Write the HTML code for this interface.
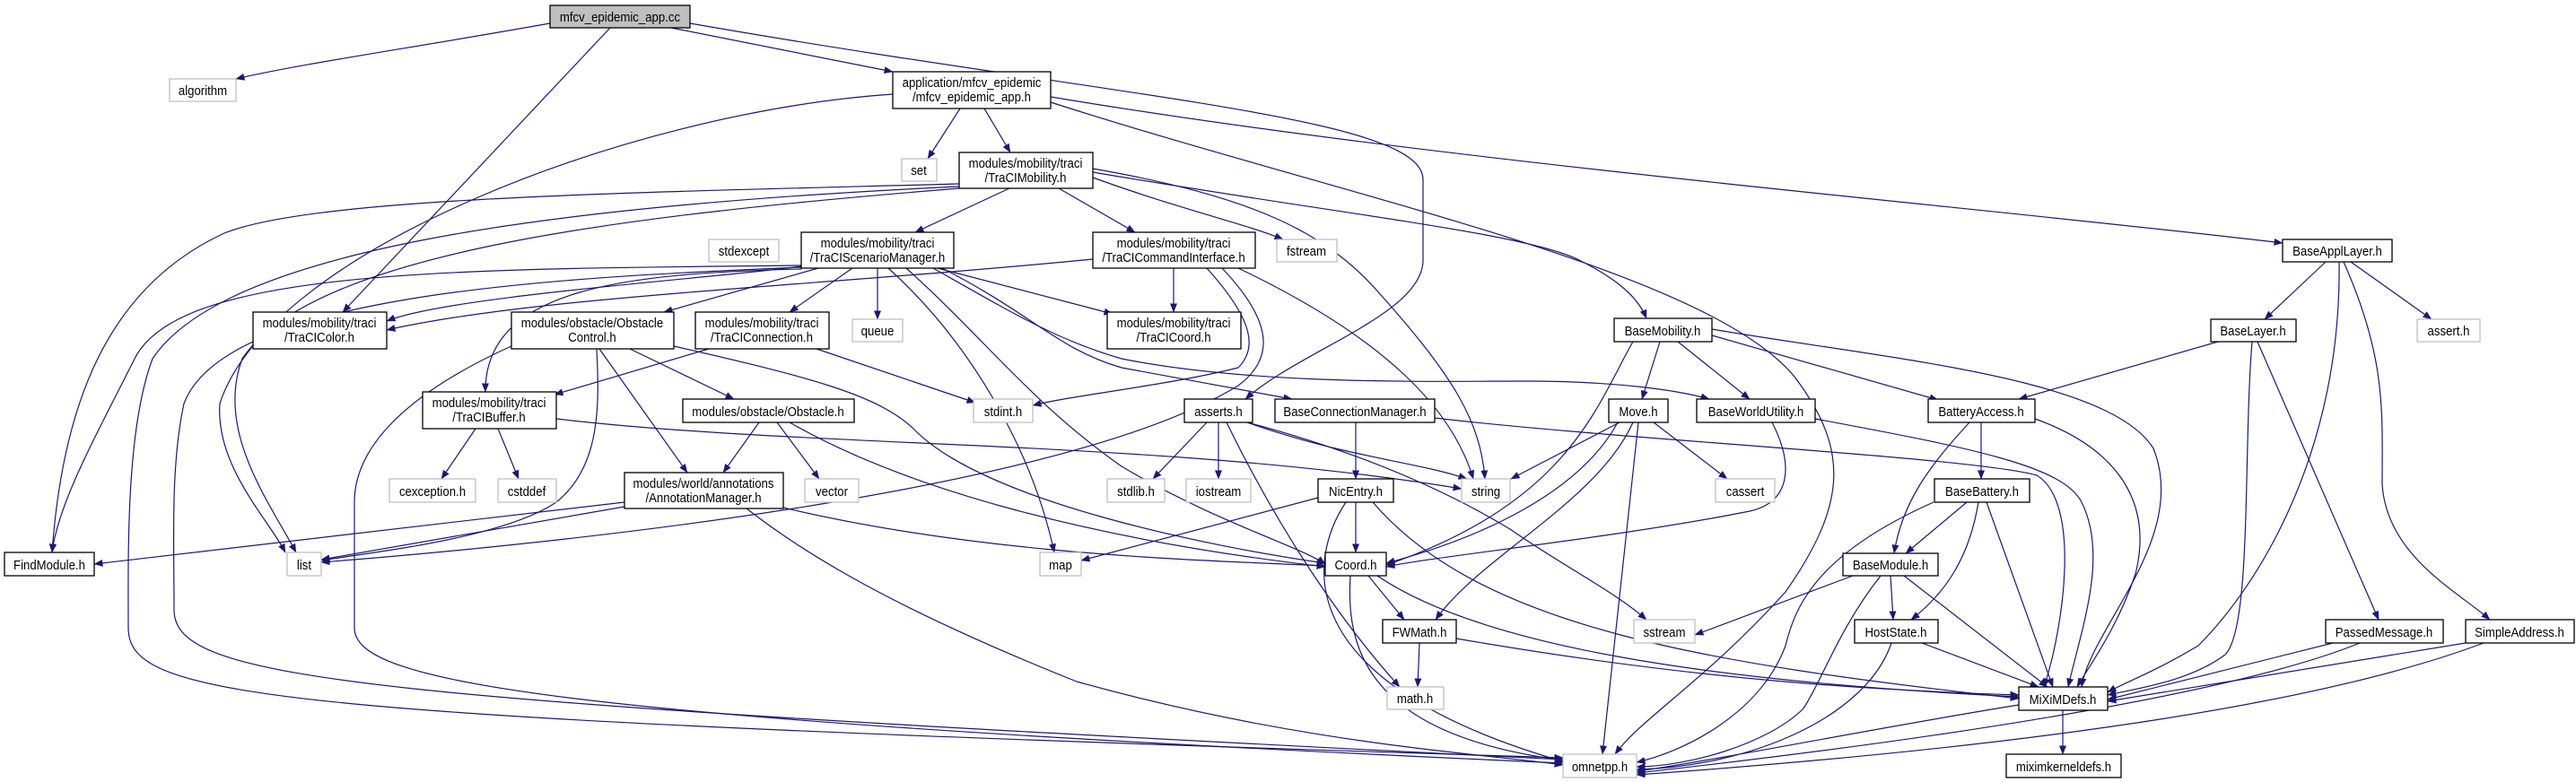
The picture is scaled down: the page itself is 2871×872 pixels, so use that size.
<!DOCTYPE html>
<html><head><meta charset="utf-8"><style>
html,body{margin:0;padding:0;background:#fff;}
svg{display:block;}
text{font-family:"Liberation Sans",sans-serif;font-size:14.5px;fill:#000;text-anchor:middle;transform-box:fill-box;transform-origin:center;transform:scaleX(.91);}
.n{fill:#fff;stroke:#000;stroke-width:1.3;}
.g{fill:#fff;stroke:#c0c0c0;stroke-width:1.3;}
.r{fill:#bfbfbf;stroke:#000;stroke-width:1.3;}
path{fill:none;stroke:#191970;stroke-width:1.2;marker-end:url(#a);}
</style></head><body>
<svg width="2871" height="872" viewBox="0 0 2871 872" xmlns="http://www.w3.org/2000/svg">
<defs><marker id="a" markerWidth="10" markerHeight="8" refX="9.5" refY="4" orient="auto" markerUnits="userSpaceOnUse"><polygon points="0,0 10,4 0,8" fill="#191970"/></marker></defs>
<g>
<path d="M613,26 C450,55 330,72 263,88"/>
<path d="M680,31 L382,348"/>
<path d="M748,31 L995,80"/>
<path d="M769,26 C1250,110 1586,130 1586,200 L1586,290 C1586,350 1450,390 1388,445"/>
<path d="M995,105 C700,125 300,280 245,450 C240,520 300,580 318,616"/>
<path d="M1070,121 L1034,177"/>
<path d="M1097,121 L1126,170"/>
<path d="M1171,108 C1600,180 2200,230 2544,271"/>
<path d="M1171,114 C1500,220 1900,300 2000,420 C2060,500 2060,560 1990,660 C1900,760 1830,800 1800,841"/>
<path d="M1125,210 L1020,259"/>
<path d="M1180,210 L1265,259"/>
<path d="M1218,198 C1320,235 1390,250 1430,267"/>
<path d="M1218,188 C1400,220 1480,260 1540,330 C1620,420 1650,470 1655,534"/>
<path d="M1218,192 C1500,240 1700,260 1760,290 C1800,310 1825,330 1835,355"/>
<path d="M1069,205 C700,215 350,220 250,260 C120,320 70,450 58,616"/>
<path d="M1069,208 C600,230 250,280 170,400 C140,480 143,620 143,700 C143,780 300,800 1742,845"/>
<path d="M1069,210 C700,240 350,280 270,400 C240,480 300,560 330,616"/>
<path d="M893,297 C800,310 500,330 431,358"/>
<path d="M912,299 L740,348"/>
<path d="M950,299 L880,348"/>
<path d="M978,299 L978,356"/>
<path d="M893,296 C500,300 200,300 150,400 C110,480 65,560 58,616"/>
<path d="M893,298 C600,310 250,330 205,450 C190,520 194,600 194,680 C194,760 400,780 1742,847"/>
<path d="M893,300 C700,305 540,320 541,437"/>
<path d="M990,299 C1080,380 1150,500 1175,616"/>
<path d="M1010,299 C1100,380 1150,450 1250,520 C1350,580 1450,610 1477,629"/>
<path d="M1045,299 L1240,350"/>
<path d="M1050,299 C1150,350 1180,390 1250,410 L1440,445"/>
<path d="M1040,299 C1130,350 1180,380 1250,400 C1400,430 1600,425 1700,425 C1800,425 1870,435 1905,445"/>
<path d="M1218,289 C900,320 600,330 431,368"/>
<path d="M1308,299 L1308,348"/>
<path d="M1345,299 C1400,360 1400,390 1380,410 C1300,430 1200,440 1151,452"/>
<path d="M1362,299 C1420,360 1420,400 1380,430 C1200,540 700,600 358,627"/>
<path d="M1380,299 C1550,380 1620,460 1642,534"/>
<path d="M702,389 L818,445"/>
<path d="M668,389 L766,527"/>
<path d="M665,389 C668,450 670,520 620,560 C560,600 420,615 358,625"/>
<path d="M751,386 C900,420 980,440 1020,480 C1100,560 1350,610 1477,628"/>
<path d="M572,385 C450,440 395,500 395,560 L395,700 C395,760 600,800 1742,851"/>
<path d="M790,389 L618,440"/>
<path d="M910,389 L1087,449"/>
<path d="M530,478 L492,534"/>
<path d="M555,478 L578,534"/>
<path d="M620,467 C900,500 1300,490 1629,545"/>
<path d="M846,471 L806,527"/>
<path d="M866,471 L913,534"/>
<path d="M880,471 C1000,540 1200,600 1477,632"/>
<path d="M696,560 L105,629"/>
<path d="M696,565 L358,624"/>
<path d="M873,566 C1100,620 1350,625 1477,631"/>
<path d="M832,567 C900,620 1000,680 1200,760 C1450,830 1650,840 1742,853"/>
<path d="M1345,471 L1285,534"/>
<path d="M1358,471 L1358,534"/>
<path d="M1390,471 C1500,510 1580,515 1635,534"/>
<path d="M1367,471 C1430,600 1500,700 1560,766"/>
<path d="M1390,471 C1500,500 1600,540 1683,590 C1740,630 1800,660 1835,691"/>
<path d="M1511,471 L1511,534"/>
<path d="M1599,466 C1800,490 2200,510 2270,530 C2320,560 2300,700 2278,766"/>
<path d="M1469,555 L1205,625"/>
<path d="M1511,560 L1511,616"/>
<path d="M1500,560 C1460,620 1430,760 1745,850"/>
<path d="M1530,560 C1650,700 1900,740 2250,779"/>
<path d="M1525,642 L1565,691"/>
<path d="M1505,642 C1500,720 1520,820 1745,848"/>
<path d="M1535,642 C1650,720 1900,760 2250,777"/>
<path d="M1582,717 L1580,766"/>
<path d="M1623,712 C1900,760 2100,770 2250,775"/>
<path d="M1805,471 L1684,534"/>
<path d="M1843,471 L1925,534"/>
<path d="M1803,471 C1760,550 1650,600 1545,628"/>
<path d="M1820,471 C1780,560 1650,620 1600,691"/>
<path d="M1826,471 L1786,841"/>
<path d="M1820,381 C1780,450 1750,560 1545,630"/>
<path d="M1975,471 C2000,520 1995,560 1950,570 C1800,600 1600,620 1545,632"/>
<path d="M1850,381 L1830,445"/>
<path d="M1870,381 L1950,445"/>
<path d="M1908,374 L2160,446"/>
<path d="M1908,367 C2100,400 2350,420 2400,500 C2440,600 2330,700 2320,766"/>
<path d="M2023,467 C2200,500 2300,520 2320,560 C2350,620 2320,700 2305,766"/>
<path d="M2208,471 L2208,534"/>
<path d="M2195,471 C2150,520 2120,560 2111,617"/>
<path d="M2268,467 C2360,500 2400,560 2380,640 C2360,700 2330,740 2315,766"/>
<path d="M2192,560 L2124,617"/>
<path d="M2205,560 C2195,620 2170,660 2130,691"/>
<path d="M2214,560 L2288,766"/>
<path d="M2155,560 C2020,620 2000,680 1990,720 C1960,800 1870,840 1824,850"/>
<path d="M2065,642 L1889,708"/>
<path d="M2107,642 L2110,691"/>
<path d="M2122,642 L2282,766"/>
<path d="M2096,642 C2050,700 2030,760 2010,790 C1970,830 1880,855 1824,855"/>
<path d="M2142,717 L2272,766"/>
<path d="M2108,717 C2080,800 1950,855 1824,858"/>
<path d="M2299,792 L2299,841"/>
<path d="M2250,786 C2100,810 1900,850 1824,860"/>
<path d="M2592,292 L2524,356"/>
<path d="M2620,292 L2710,356"/>
<path d="M2607,292 C2610,500 2520,650 2450,720 C2400,750 2370,760 2349,772"/>
<path d="M2612,292 C2660,400 2655,460 2655,540 C2660,620 2740,660 2775,691"/>
<path d="M2472,381 L2250,445"/>
<path d="M2510,381 C2500,500 2510,700 2480,730 C2440,760 2380,768 2349,775"/>
<path d="M2516,381 L2651,691"/>
<path d="M2600,717 L2349,780"/>
<path d="M2630,717 C2500,770 2200,820 1824,862"/>
<path d="M2748,717 L2349,782"/>
<path d="M2768,717 C2600,780 2300,830 1824,864"/>
</g>
<g>
<rect class="r" x="613" y="6" width="156" height="25"/><text x="691" y="24">mfcv_epidemic_app.cc</text>
<rect class="g" x="189" y="88" width="74" height="25"/><text x="226" y="106">algorithm</text>
<rect class="n" x="995" y="80" width="176" height="41"/><text x="1083" y="97">application/mfcv_epidemic</text><text x="1083" y="113">/mfcv_epidemic_app.h</text>
<rect class="g" x="1005" y="177" width="39" height="25"/><text x="1024" y="195">set</text>
<rect class="n" x="1069" y="170" width="149" height="40"/><text x="1143" y="187">modules/mobility/traci</text><text x="1143" y="203">/TraCIMobility.h</text>
<rect class="g" x="790" y="267" width="78" height="25"/><text x="829" y="285">stdexcept</text>
<rect class="n" x="893" y="259" width="170" height="40"/><text x="978" y="276">modules/mobility/traci</text><text x="978" y="292">/TraCIScenarioManager.h</text>
<rect class="n" x="1218" y="259" width="181" height="40"/><text x="1308" y="276">modules/mobility/traci</text><text x="1308" y="292">/TraCICommandInterface.h</text>
<rect class="g" x="1423" y="267" width="67" height="25"/><text x="1456" y="285">fstream</text>
<rect class="n" x="282" y="348" width="149" height="41"/><text x="356" y="365">modules/mobility/traci</text><text x="356" y="381">/TraCIColor.h</text>
<rect class="n" x="570" y="348" width="181" height="41"/><text x="660" y="365">modules/obstacle/Obstacle</text><text x="660" y="381">Control.h</text>
<rect class="n" x="775" y="348" width="149" height="41"/><text x="849" y="365">modules/mobility/traci</text><text x="849" y="381">/TraCIConnection.h</text>
<rect class="g" x="950" y="356" width="56" height="25"/><text x="978" y="374">queue</text>
<rect class="n" x="1234" y="348" width="149" height="41"/><text x="1308" y="365">modules/mobility/traci</text><text x="1308" y="381">/TraCICoord.h</text>
<rect class="n" x="1799" y="355" width="109" height="26"/><text x="1853" y="374">BaseMobility.h</text>
<rect class="n" x="2544" y="267" width="122" height="25"/><text x="2605" y="285">BaseApplLayer.h</text>
<rect class="n" x="2464" y="356" width="95" height="25"/><text x="2511" y="374">BaseLayer.h</text>
<rect class="g" x="2694" y="356" width="70" height="25"/><text x="2729" y="374">assert.h</text>
<rect class="n" x="471" y="437" width="149" height="41"/><text x="545" y="454">modules/mobility/traci</text><text x="545" y="470">/TraCIBuffer.h</text>
<rect class="n" x="761" y="445" width="191" height="26"/><text x="856" y="464">modules/obstacle/Obstacle.h</text>
<rect class="g" x="1085" y="445" width="66" height="26"/><text x="1118" y="464">stdint.h</text>
<rect class="n" x="1320" y="445" width="76" height="26"/><text x="1358" y="464">asserts.h</text>
<rect class="n" x="1421" y="445" width="178" height="26"/><text x="1510" y="464">BaseConnectionManager.h</text>
<rect class="n" x="1793" y="445" width="66" height="26"/><text x="1826" y="464">Move.h</text>
<rect class="n" x="1891" y="445" width="132" height="26"/><text x="1957" y="464">BaseWorldUtility.h</text>
<rect class="n" x="2149" y="445" width="119" height="26"/><text x="2208" y="464">BatteryAccess.h</text>
<rect class="g" x="434" y="534" width="96" height="26"/><text x="482" y="553">cexception.h</text>
<rect class="g" x="555" y="534" width="65" height="26"/><text x="587" y="553">cstddef</text>
<rect class="n" x="696" y="527" width="177" height="40"/><text x="784" y="544">modules/world/annotations</text><text x="784" y="560">/AnnotationManager.h</text>
<rect class="g" x="897" y="534" width="60" height="26"/><text x="927" y="553">vector</text>
<rect class="g" x="1234" y="534" width="64" height="26"/><text x="1266" y="553">stdlib.h</text>
<rect class="g" x="1322" y="534" width="72" height="26"/><text x="1358" y="553">iostream</text>
<rect class="n" x="1469" y="534" width="84" height="26"/><text x="1511" y="553">NicEntry.h</text>
<rect class="g" x="1629" y="534" width="54" height="26"/><text x="1656" y="553">string</text>
<rect class="g" x="1912" y="534" width="66" height="26"/><text x="1945" y="553">cassert</text>
<rect class="n" x="2156" y="534" width="106" height="26"/><text x="2209" y="553">BaseBattery.h</text>
<rect class="n" x="5" y="616" width="100" height="26"/><text x="55" y="635">FindModule.h</text>
<rect class="g" x="320" y="616" width="38" height="26"/><text x="339" y="635">list</text>
<rect class="g" x="1159" y="616" width="46" height="26"/><text x="1182" y="635">map</text>
<rect class="n" x="1477" y="616" width="68" height="26"/><text x="1511" y="635">Coord.h</text>
<rect class="n" x="2054" y="617" width="106" height="25"/><text x="2107" y="635">BaseModule.h</text>
<rect class="n" x="1541" y="691" width="82" height="26"/><text x="1582" y="710">FWMath.h</text>
<rect class="g" x="1821" y="691" width="68" height="26"/><text x="1855" y="710">sstream</text>
<rect class="n" x="2067" y="691" width="93" height="26"/><text x="2113" y="710">HostState.h</text>
<rect class="n" x="2592" y="691" width="131" height="26"/><text x="2657" y="710">PassedMessage.h</text>
<rect class="n" x="2748" y="691" width="121" height="26"/><text x="2808" y="710">SimpleAddress.h</text>
<rect class="g" x="1546" y="766" width="63" height="25"/><text x="1577" y="784">math.h</text>
<rect class="n" x="2250" y="766" width="99" height="26"/><text x="2299" y="785">MiXiMDefs.h</text>
<rect class="g" x="1742" y="841" width="82" height="26"/><text x="1783" y="860">omnetpp.h</text>
<rect class="n" x="2236" y="841" width="128" height="26"/><text x="2300" y="860">miximkerneldefs.h</text>
</g>
</svg>
</body></html>
